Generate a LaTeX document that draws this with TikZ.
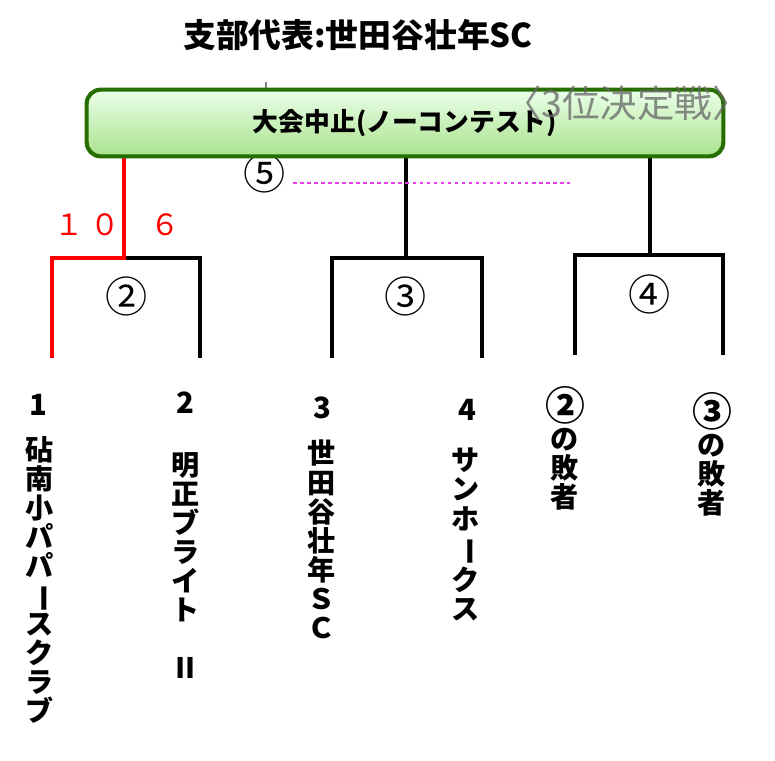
\documentclass[tikz,border=0pt]{standalone}
\usepackage{fontspec}
\setmainfont{Noto Sans CJK JP}
\usetikzlibrary{positioning}
\definecolor{pinkdash}{RGB}{235,60,235}
\tikzset{
  line/.style={line width=2.6pt},
  win/.style={line, red},
  team/.style={font=\bfseries\fontsize{24}{24.8}\selectfont, align=center, anchor=north, inner sep=0pt},
  seed/.style={font=\bfseries\fontsize{25}{27}\selectfont, inner sep=0pt},
  maru/.style={font=\fontsize{36}{38}\selectfont, inner sep=0pt},
}
\newcommand{\bou}{\rotatebox[origin=c]{-90}{ー}}
\newcommand{\bigmaru}[1]{{\fontsize{34}{24.8}\selectfont #1}}
\begin{document}
\begin{tikzpicture}[x=0.03cm, y=-0.03cm]
        \useasboundingbox (0,0) rectangle (775,761);
        % Title
        \node [font=\bfseries\fontsize{28}{30}\selectfont] (title) at (358,35) {支部代表:世田谷壮年SC};
        % Brackets
        \coordinate (top1) at (124,158);
        \coordinate (mid1) at (124,258);
        \coordinate (l1) at (52,258);
        \coordinate (r1) at (200,258);
        \coordinate (top2) at (406,158);
        \coordinate (l2) at (332,258);
        \coordinate (r2) at (482,258);
        \coordinate (top3) at (650,158);
        \coordinate (l3) at (575,255);
        \coordinate (r3) at (723,255);
        \draw [line] (mid1) -- (r1) -- ++(0,100);
        \draw [win] (top1) -- (mid1) -- (l1) -- ++(0,100);
        \draw [line] (top2) -- (top2 |- l2);
        \draw [line] (l2) ++(0,100) -- (l2) -- (r2) -- ++(0,100);
        \draw [line] (top3) -- (top3 |- l3);
        \draw [line] (l3) ++(0,100) -- (l3) -- (r3) -- ++(0,100);
        % Score
        \node [red, font=\fontsize{25}{27}\selectfont] (score1) at (87,225) {１ ０};
        \node [red, font=\fontsize{25}{27}\selectfont] (score2) at (165,225) {６};
        % Match numbers
        \node [maru] (m2) at (127,296) {②};
        \node [maru] (m3) at (406,296) {③};
        \node [maru] (m4) at (650,294) {④};
        \node [maru] (m5) at (265,173) {⑤};
        \draw [pinkdash, dashed, line width=1.2pt] (293,183) -- (570,183);
        % Box
        \draw [gray, line width=1.5pt] (266,82) -- (266,108);
        \node [draw=green!40!black!70!olive, line width=3.5pt, rounded corners=12pt,
               top color=green!8!white, bottom color=green!50!olive!45!white,
               minimum width=19.1cm, minimum height=2.0cm,
               font=\bfseries\fontsize{22}{24}\selectfont] (box) at (405,123) {大会中止(ノーコンテスト)};
        % Third place label
        \node [gray!80!black, opacity=0.75, font=\fontsize{32}{34}\selectfont, anchor=east] (third) at (754,103) {〈3位決定戦〉};
        % Teams
        \node [seed] (n1) at (38,405) {1};
        \node [seed] (n2) at (185,403) {2};
        \node [seed] (n3) at (322,408) {3};
        \node [seed] (n4) at (467,410) {4};
        \node [team] (t1) at (40,436) {砧\\南\\小\\パ\\パ\\\bou\\ス\\ク\\ラ\\ブ};
        \node [team] (t2) at (186,452) {明\\正\\ブ\\ラ\\イ\\ト\\\ \\Ⅱ};
        \node [team] (t3) at (322,440) {世\\田\\谷\\壮\\年\\Ｓ\\Ｃ};
        \node [team] (t4) at (466,448) {サ\\ン\\ホ\\\bou\\ク\\ス};
        \node [team] (t5) at (565,386) {\bigmaru{②}\\の\\敗\\者};
        \node [team] (t6) at (712,392) {\bigmaru{③}\\の\\敗\\者};
\end{tikzpicture}
\end{document}
